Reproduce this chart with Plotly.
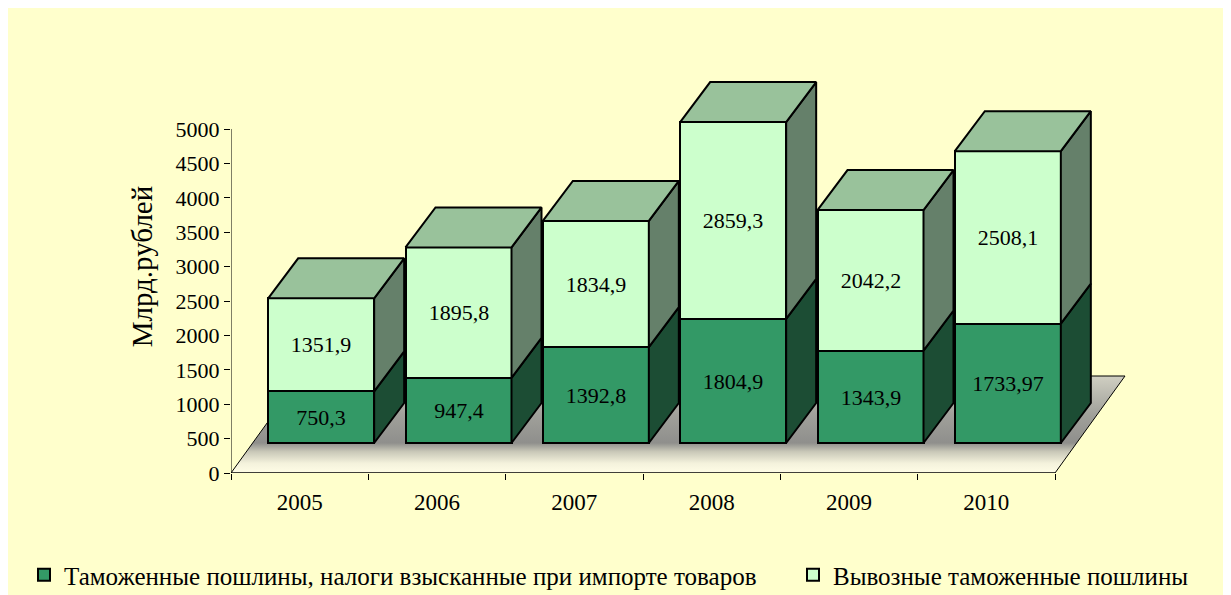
import plotly.graph_objects as go

years = ["2005", "2006", "2007", "2008", "2009", "2010"]
import_duties = [750.3, 947.4, 1392.8, 1804.9, 1343.9, 1733.97]
export_duties = [1351.9, 1895.8, 1834.9, 2859.3, 2042.2, 2508.1]
y_ticks = [0, 500, 1000, 1500, 2000, 2500, 3000, 3500, 4000, 4500, 5000]

name_import = "Таможенные пошлины, налоги взысканные при импорте товаров"
name_export = "Вывозные таможенные пошлины"

# ---- geometry (pixel based, converted to axis units) ----
OFF = 8  # page body margin
W, H = 1231, 595
L = 231 - OFF
T = 60 - OFF
plot_bottom = 473 - OFF
plot_right = 1131 - OFF
R = W - plot_right
B = H - plot_bottom
plot_w = W - L - R
plot_h = H - T - B
ky = 344 / 5000.0          # px per y unit
kx = (1055 - 231) / 6.0    # px per category
y_max = plot_h / ky
x_max = plot_w / kx

front_dx = 21.5 / kx       # bar front face offset from floor front edge
front_dy = 30 / ky
depth_dx = 30 / kx         # bar depth
depth_dy = 40 / ky
floor_dx = 70 / kx
floor_dy = 97 / ky
bar_w = 106 / kx

C_DARK = "#339966"
C_DARK_SIDE = "#1c4d34"
C_LIGHT = "#ccffcc"
C_LIGHT_SIDE = "#65806a"
C_TOP = "#99c29b"
FONT = "Liberation Serif, Times New Roman, serif"

def fmt(v):
    return ("%g" % v).replace(".", ",")

fig = go.Figure()

# floor (main subplot, drawn beneath the overlay subplot with bars)
fig.add_trace(go.Scatter(
    x=[0, 6, 6 + floor_dx, floor_dx, 0],
    y=[0, 0, floor_dy, floor_dy, 0],
    mode="lines", fill="toself",
    line=dict(color="black", width=1),
    fillgradient=dict(type="vertical", start=0, stop=floor_dy,
                      colorscale=[[0, "#fffde6"], [0.1, "#f4f2dc"],
                                  [0.22, "#c9c8b8"], [0.31, "#8f8f8c"],
                                  [0.6, "#a0a09a"], [1, "#d0cfc2"]]),
    hoverinfo="skip", showlegend=False, xaxis="x", yaxis="y"))

centers = [i + 0.5 + front_dx for i in range(len(years))]
base0 = [front_dy] * len(years)
base1 = [front_dy + a for a in import_duties]

fig.add_trace(go.Bar(
    x=centers, y=import_duties, base=base0, width=bar_w,
    name=name_import, legend="legend",
    marker=dict(color=C_DARK, line=dict(color="black", width=2)),
    text=[fmt(v) for v in import_duties], textposition="inside",
    insidetextanchor="middle", textangle=0, constraintext="none",
    textfont=dict(family=FONT, size=22, color="black"),
    hoverinfo="skip", xaxis="x2", yaxis="y2"))
fig.add_trace(go.Bar(
    x=centers, y=export_duties, base=base1, width=bar_w,
    name=name_export, legend="legend2",
    marker=dict(color=C_LIGHT, line=dict(color="black", width=2)),
    text=[fmt(v) for v in export_duties], textposition="inside",
    insidetextanchor="middle", textangle=0, constraintext="none",
    textfont=dict(family=FONT, size=22, color="black"),
    hoverinfo="skip", xaxis="x2", yaxis="y2"))

# 3D side and top faces computed from the data
for i in range(len(years)):
    xl = centers[i] - bar_w / 2
    xr = centers[i] + bar_w / 2
    segs = [(base0[i], base0[i] + import_duties[i], C_DARK_SIDE),
            (base1[i], base1[i] + export_duties[i], C_LIGHT_SIDE)]
    for b, t, col in segs:
        fig.add_trace(go.Scatter(
            x=[xr, xr + depth_dx, xr + depth_dx, xr, xr],
            y=[b, b + depth_dy, t + depth_dy, t, b],
            mode="lines", fill="toself", fillcolor=col,
            line=dict(color="black", width=2),
            hoverinfo="skip", showlegend=False, xaxis="x2", yaxis="y2"))
    top = base1[i] + export_duties[i]
    fig.add_trace(go.Scatter(
        x=[xl, xl + depth_dx, xr + depth_dx, xr, xl],
        y=[top, top + depth_dy, top + depth_dy, top, top],
        mode="lines", fill="toself", fillcolor=C_TOP,
        line=dict(color="black", width=2),
        hoverinfo="skip", showlegend=False, xaxis="x2", yaxis="y2"))

shapes = [
    dict(type="line", xref="x", yref="y", x0=0, y0=0, x1=0, y1=5000,
         line=dict(color="black", width=1)),
    dict(type="line", xref="x", yref="y", x0=0, y0=0, x1=6, y1=0,
         line=dict(color="black", width=1)),
]

legend_y = 1 - (575 - OFF) / H
legend_font = dict(family=FONT, size=25, color="black")

fig.update_layout(
    width=W, height=H,
    margin=dict(l=L, r=R, t=T, b=B, pad=0, autoexpand=False),
    paper_bgcolor="#ffffcc", plot_bgcolor="rgba(0,0,0,0)",
    barmode="overlay", bargap=0,
    shapes=shapes,
    xaxis=dict(range=[0, x_max], tickvals=list(range(7)), ticktext=[""] * 7,
               ticks="outside", ticklen=6, tickcolor="black", tickwidth=1,
               showline=False, showgrid=False, zeroline=False, fixedrange=True),
    xaxis2=dict(range=[0, x_max], overlaying="x", side="bottom",
                tickvals=[i + 0.5 for i in range(len(years))], ticktext=years,
                ticks="outside", ticklen=8, tickcolor="rgba(0,0,0,0)",
                tickfont=dict(family=FONT, size=23, color="black"),
                showline=False, showgrid=False, zeroline=False),
    yaxis=dict(range=[0, y_max], tickvals=y_ticks,
               ticks="outside", ticklen=6, tickcolor="black", tickwidth=1,
               tickfont=dict(family=FONT, size=22, color="black"),
               showline=False, showgrid=False, zeroline=False,
               title=dict(text="Млрд.рублей", standoff=14,
                          font=dict(family=FONT, size=29, color="black"))),
    yaxis2=dict(range=[0, y_max], overlaying="y", visible=False),
    legend=dict(orientation="h", xref="container", yref="container",
                x=16 / W, xanchor="left", y=legend_y, yanchor="middle",
                font=legend_font, bgcolor="rgba(0,0,0,0)"),
    legend2=dict(orientation="h", xref="container", yref="container",
                 x=785 / W, xanchor="left", y=legend_y, yanchor="middle",
                 font=legend_font, bgcolor="rgba(0,0,0,0)"),
    showlegend=True,
)

fig.write_html("out.html")
